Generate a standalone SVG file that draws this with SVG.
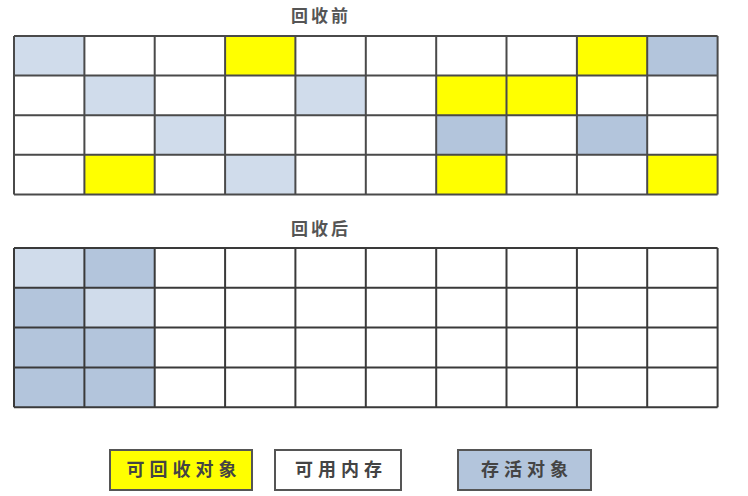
<svg xmlns="http://www.w3.org/2000/svg" width="748" height="496" viewBox="0 0 748 496">
<style>
.bg{fill:#ffffff}
.w{fill:#ffffff}
.y{fill:#ffff00}
.l{fill:#d0dceb}
.d{fill:#b3c5dc}
.grid{stroke:#4a4a4a;stroke-width:2;fill:none}
.t{font-family:"Noto Sans CJK SC","Noto Sans CJK TC",sans-serif;font-size:17px;font-weight:bold;fill:#555;text-anchor:middle;letter-spacing:3px}
.lg{font-family:"Noto Sans CJK SC","Noto Sans CJK TC",sans-serif;font-size:18px;font-weight:bold;fill:#444;text-anchor:middle;letter-spacing:5px}
.box{stroke:#555;stroke-width:2}
</style>
<rect class="bg" x="0" y="0" width="748" height="496"/>
<g id="title-before"><text class="t" x="321" y="22">回收前</text></g>
<g id="grid-before">
<rect class="l" x="14" y="36" width="70.4" height="39.6"/>
<rect class="y" x="225.1" y="36" width="70.3" height="39.6"/>
<rect class="y" x="576.9" y="36" width="70.3" height="39.6"/>
<rect class="d" x="647.2" y="36" width="70.4" height="39.6"/>
<rect class="l" x="84.4" y="75.6" width="70.3" height="39.6"/>
<rect class="l" x="295.4" y="75.6" width="70.4" height="39.6"/>
<rect class="y" x="436.2" y="75.6" width="70.3" height="39.6"/>
<rect class="y" x="506.5" y="75.6" width="70.4" height="39.6"/>
<rect class="l" x="154.7" y="115.2" width="70.4" height="39.6"/>
<rect class="d" x="436.2" y="115.2" width="70.3" height="39.6"/>
<rect class="d" x="576.9" y="115.2" width="70.3" height="39.6"/>
<rect class="y" x="84.4" y="154.8" width="70.3" height="39.6"/>
<rect class="l" x="225.1" y="154.8" width="70.3" height="39.6"/>
<rect class="y" x="436.2" y="154.8" width="70.3" height="39.6"/>
<rect class="y" x="647.2" y="154.8" width="70.4" height="39.6"/>
<path class="grid" d="M14 36H717.6M14 75.6H717.6M14 115.2H717.6M14 154.8H717.6M14 194.4H717.6M14 36V194.4M84.4 36V194.4M154.7 36V194.4M225.1 36V194.4M295.4 36V194.4M365.8 36V194.4M436.2 36V194.4M506.5 36V194.4M576.9 36V194.4M647.2 36V194.4M717.6 36V194.4"/>
</g>
<g id="title-after"><text class="t" x="321" y="235">回收后</text></g>
<g id="grid-after">
<rect class="l" x="14" y="248" width="70.4" height="39.8"/>
<rect class="d" x="84.4" y="248" width="70.3" height="39.8"/>
<rect class="d" x="14" y="287.8" width="70.4" height="39.8"/>
<rect class="l" x="84.4" y="287.8" width="70.3" height="39.8"/>
<rect class="d" x="14" y="327.6" width="140.7" height="79.6"/>
<path class="grid" style="stroke:#3a3a3a" d="M14 248H717.6M14 287.8H717.6M14 327.6H717.6M14 367.4H717.6M14 407.2H717.6M14 248V407.2M84.4 248V407.2M154.7 248V407.2M225.1 248V407.2M295.4 248V407.2M365.8 248V407.2M436.2 248V407.2M506.5 248V407.2M576.9 248V407.2M647.2 248V407.2M717.6 248V407.2"/>
</g>
<g id="legend-recyclable">
<rect class="y box" x="110" y="450" width="142" height="40"/>
<text class="lg" x="184" y="476">可回收对象</text>
</g>
<g id="legend-free">
<rect class="w box" x="275" y="450" width="126" height="40"/>
<text class="lg" x="341" y="476">可用内存</text>
</g>
<g id="legend-alive">
<rect class="d box" x="458" y="450" width="133" height="40"/>
<text class="lg" x="527" y="476">存活对象</text>
</g>
</svg>
